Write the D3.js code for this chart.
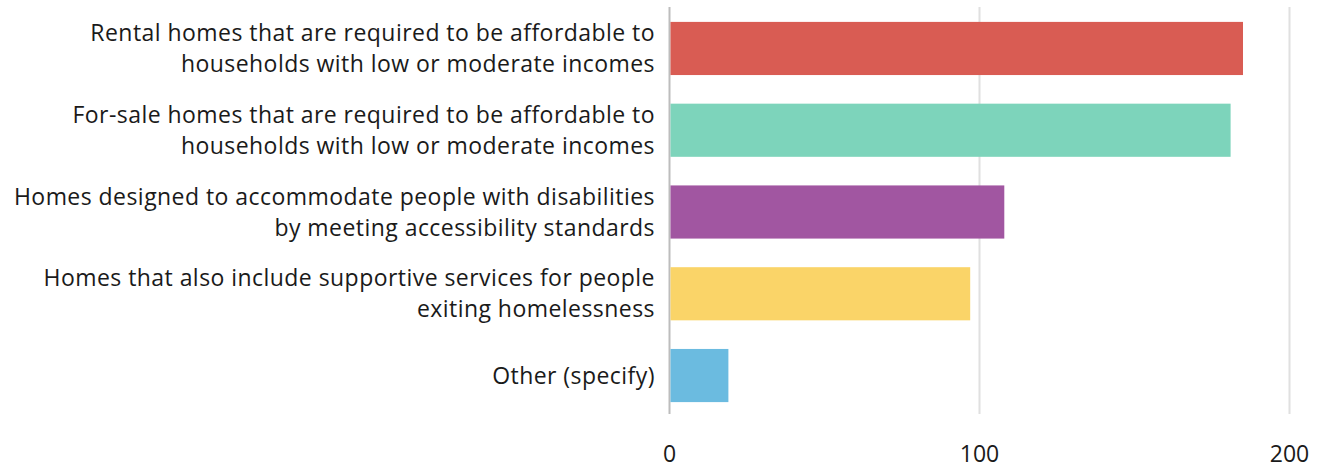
<!DOCTYPE html>
<html><head><meta charset="utf-8">
<script src="https://cdn.jsdelivr.net/npm/d3@7"></script>
<style>body{margin:0;background:#fff;}svg{display:block;}text{font-family:"Open Sans","Noto Sans",sans-serif;fill:#1a1a1a;}</style>
</head><body><svg id="c" width="1327" height="469"></svg>
<script>
const categories = [
  ["Rental homes that are required to be affordable to","households with low or moderate incomes"],
  ["For-sale homes that are required to be affordable to","households with low or moderate incomes"],
  ["Homes designed to accommodate people with disabilities","by meeting accessibility standards"],
  ["Homes that also include supportive services for people","exiting homelessness"],
  ["Other (specify)"]
];
const values = [185, 181, 108, 97, 19];
const colors = ["#d95c53", "#7dd4bb", "#a156a1", "#fad468", "#6bbbe0"];
const tickValues = [0, 100, 200];

const svg = d3.select("#c");
const x = d3.scaleLinear().domain([0, 200]).range([669.5, 1289.5]);
const y = d3.scaleBand().domain(d3.range(values.length)).range([8, 416]).paddingInner(0.35).paddingOuter(0.17);

// grid
svg.append("g").selectAll("line").data(tickValues).join("line")
  .attr("x1", d => x(d)).attr("x2", d => x(d))
  .attr("y1", 7).attr("y2", 414)
  .attr("stroke", d => d === 0 ? "#bdbdbd" : "#e0e0e0").attr("stroke-width", 2);

// bars
svg.append("g").selectAll("rect").data(values).join("rect")
  .attr("x", x(0) + 1).attr("y", (d, i) => y(i))
  .attr("width", d => x(d) - x(0) - 1).attr("height", y.bandwidth())
  .attr("fill", (d, i) => colors[i]);

// category labels
const lab = svg.append("g").selectAll("text").data(categories).join("text")
  .attr("text-anchor", "end").attr("font-size", 23).attr("letter-spacing", "0.45px");
lab.each(function(lines, i) {
  const cy = y(i) + y.bandwidth() / 2;
  const lh = 31;
  const t0 = cy - (lines.length - 1) * lh / 2;
  d3.select(this).selectAll("tspan").data(lines).join("tspan")
    .attr("x", 655).attr("y", (d, k) => t0 + k * lh).attr("dy", "0.35em").text(d => d);
});

// x axis tick labels
svg.append("g").selectAll("text").data(tickValues).join("text")
  .attr("x", d => x(d)).attr("y", 454).attr("text-anchor", "middle")
  .attr("font-size", 23).attr("dy", "0.35em").text(d => d);
</script></body></html>
